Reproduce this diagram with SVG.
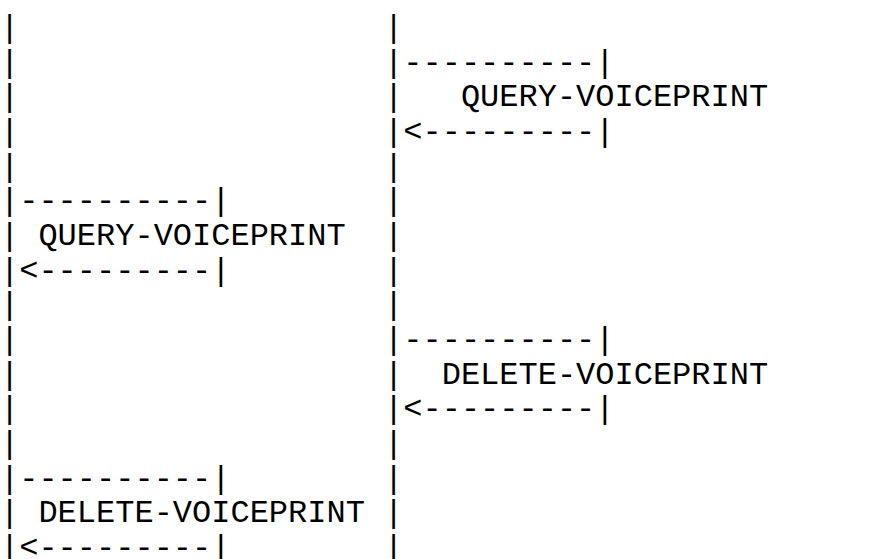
<svg xmlns="http://www.w3.org/2000/svg" width="885" height="559" viewBox="0 0 885 559">
<style>
text{font-family:"Liberation Mono","Courier New",monospace;font-size:32px;fill:#000;white-space:pre}
</style>
<rect width="885" height="559" fill="#fff"/>
<g id="diagram" xml:space="preserve">
<text x="0" y="37">|                   |</text>
<text x="0" y="71.67">|                   |----------|</text>
<text x="0" y="106.33">|                   |   QUERY-VOICEPRINT</text>
<text x="0" y="141">|                   |&lt;---------|</text>
<text x="0" y="175.67">|                   |</text>
<text x="0" y="210.33">|----------|        |</text>
<text x="0" y="245">| QUERY-VOICEPRINT  |</text>
<text x="0" y="279.67">|&lt;---------|        |</text>
<text x="0" y="314.33">|                   |</text>
<text x="0" y="349">|                   |----------|</text>
<text x="0" y="383.67">|                   |  DELETE-VOICEPRINT</text>
<text x="0" y="418.33">|                   |&lt;---------|</text>
<text x="0" y="453">|                   |</text>
<text x="0" y="487.67">|----------|        |</text>
<text x="0" y="522.33">| DELETE-VOICEPRINT |</text>
<text x="0" y="557">|&lt;---------|        |</text>
</g>
</svg>
